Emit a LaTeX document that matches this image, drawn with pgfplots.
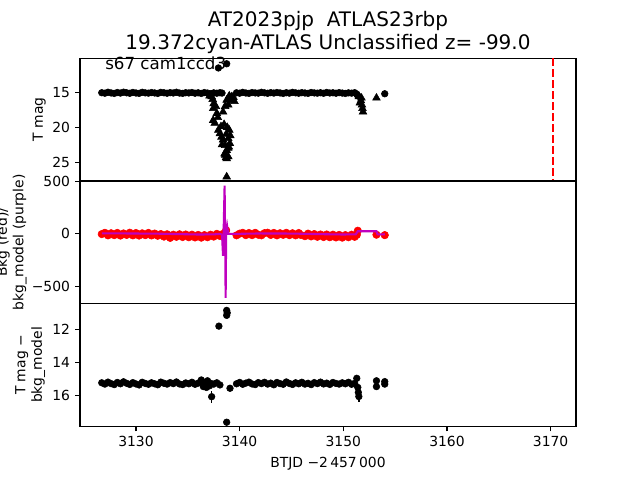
\documentclass[border=0pt]{standalone}
\usepackage{pgfplots}
\pgfplotsset{compat=1.18}
\usepackage{fontspec}
\setmainfont{DejaVu Sans}
\definecolor{mplpurple}{rgb}{0.75,0,0.75}
\definecolor{mplred}{rgb}{1,0,0}
\tikzset{ylab/.style={anchor=east, inner sep=0pt, font=\fontsize{10}{12}\selectfont, xshift=-7pt}}
\begin{document}
\begin{tikzpicture}
\useasboundingbox (0,0) rectangle (460.8pt,345.6pt);
\pgfplotsset{
  panel/.style={
    scale only axis, width=357.12pt, height=88.4pt,
    xmin=3124.6, xmax=3172.45, anchor=south west,
    axis line style={line width=0.8pt},
    tick align=outside, tick pos=left,
    major tick length=3.5pt,
    every tick/.style={black, line width=0.8pt},
    ticklabel style={font=\fontsize{10}{12}\selectfont},
    clip mode=individual,
  },
  dots/.style={only marks, mark=*, mark size=2.4pt, black},
}
% ---------------- top panel -----------------
\begin{axis}[panel, at={(57.6pt,215.3pt)}, y dir=reverse, ymin=10.1, ymax=27.7,
  ytick={15,20,25}, yticklabels={,,}, xtick=\empty]
\addplot[dots] coordinates {
(3126.7,15.05)(3127.0,15.12)(3127.3,14.98)(3127.6,15.08)(3127.9,15.15)(3128.2,15.02)(3128.5,15.10)(3128.8,14.97)(3129.1,15.06)(3129.4,15.13)
(3129.7,15.01)(3130.0,15.09)(3130.3,15.14)(3130.6,14.99)(3130.9,15.07)(3131.2,15.11)(3131.5,15.03)(3131.8,15.08)(3132.1,15.15)(3132.4,15.00)
(3132.7,15.06)(3133.0,15.12)(3133.3,15.04)(3133.6,15.09)(3133.9,14.98)(3134.2,15.10)(3134.5,15.14)(3134.8,15.05)(3135.1,15.08)(3135.4,15.02)
(3135.7,15.12)(3136.0,15.06)(3136.3,15.15)(3136.6,15.03)(3136.9,15.10)(3137.2,15.18)(3137.5,15.07)(3137.8,15.12)(3138.1,15.05)(3138.3,15.10)
(3139.7,15.06)(3140.0,15.12)(3140.3,15.00)(3140.6,15.09)(3140.9,15.14)(3141.2,15.03)(3141.5,15.08)(3141.8,15.11)(3142.1,14.99)(3142.4,15.07)
(3142.7,15.13)(3143.0,15.04)(3143.3,15.10)(3143.6,15.02)(3143.9,15.08)(3144.2,15.15)(3144.5,15.05)(3144.8,15.11)(3145.1,15.00)(3145.4,15.07)
(3145.7,15.12)(3146.0,15.04)(3146.3,15.09)(3146.6,15.14)(3146.9,15.02)(3147.2,15.08)(3147.5,15.11)(3147.8,15.05)(3148.1,15.13)(3148.4,15.01)
(3148.7,15.09)(3149.0,15.06)(3149.3,15.12)(3149.6,15.04)(3149.9,15.10)(3150.2,15.15)(3150.5,15.07)(3150.8,15.11)(3151.1,15.05)(3151.3,15.25)
(3151.4,15.5)(3154.0,15.2)(3137.95,11.5)(3138.75,10.9)
};
\addplot[only marks, mark=triangle*, mark size=3.2pt, black] coordinates {
(3137.5,16.6)(3137.45,17.3)(3137.8,18.0)(3137.45,19.0)(3137.6,19.4)(3137.95,20.4)(3138.1,20.9)(3138.25,21.4)(3138.4,21.8)(3138.6,22.6)
(3138.75,23.3)(3138.6,24.0)(3138.7,24.3)(3138.9,21.6)(3139.05,22.3)(3138.4,17.8)(3138.6,17.0)(3138.75,16.1)(3139.0,15.5)(3139.2,16.1)
(3139.25,15.6)(3138.75,27.1)(3137.3,15.6)(3137.4,16.0)(3138.8,20.0)(3138.9,23.0)(3138.7,21.0)(3138.75,24.5)
(3138.3,22.5)(3138.95,22.8)(3139.1,21.2)(3138.5,19.6)(3138.2,19.9)(3139.0,20.4)(3138.55,23.8)(3138.9,24.2)
(3139.4,15.7)(3139.5,16.3)(3138.9,16.8)(3137.1,15.5)(3137.7,17.0)(3137.9,18.6)
(3151.5,15.6)(3151.7,16.2)(3151.8,16.8)(3151.85,17.3)(3151.9,17.8)(3151.6,16.5)(3151.75,15.8)(3153.2,15.8)
};
\addplot[mplred, line width=1.5pt, dash pattern=on 5.5pt off 2.4pt] coordinates {(3170.2,10.1)(3170.2,27.7)};
\node[ylab] at (axis cs:3124.6,15) {15};
\node[ylab] at (axis cs:3124.6,20) {20};
\node[ylab] at (axis cs:3124.6,25) {25};
\end{axis}
% ---------------- middle panel -----------------
\begin{axis}[panel, at={(57.6pt,126.9pt)}, ymin=-667, ymax=505,
  ytick={-500,0,500}, yticklabels={,,}, xtick=\empty]
\addplot[only marks, mark=*, mark size=2.7pt, mplred] coordinates {
(3126.7,-2)(3127.0,10)(3127.3,-14)(3127.6,6)(3127.9,-12)(3128.2,9)(3128.5,-16)(3128.8,4)(3129.1,-10)(3129.4,11)
(3129.7,-14)(3130.0,8)(3130.3,-16)(3130.6,5)(3130.9,-12)(3131.2,9)(3131.5,-15)(3131.8,3)(3132.1,-18)(3132.4,-2)
(3132.7,-26)(3133.0,-4)(3133.3,-38)(3133.6,-8)(3133.9,-28)(3134.2,-4)(3134.5,-30)(3134.8,-6)(3135.1,-32)(3135.4,-8)
(3135.7,-34)(3136.0,-10)(3136.3,-36)(3136.6,-12)(3136.9,-32)(3137.2,-8)(3137.5,-26)(3137.8,0)(3138.1,-20)(3138.3,-4)
(3138.7,35)
(3139.7,-14)(3140.0,2)(3140.3,10)(3140.6,-12)(3140.9,8)(3141.2,-12)(3141.5,10)(3141.8,-8)(3142.1,-14)(3142.4,7)
(3142.7,11)(3143.0,-10)(3143.3,9)(3143.6,-14)(3143.9,6)(3144.2,-9)(3144.5,10)(3144.8,-12)(3145.1,6)(3145.4,-14)
(3145.7,8)(3145.9,-10)(3146.3,-22)(3146.6,2)(3146.9,-24)(3147.2,-2)(3147.5,-28)(3147.8,-6)(3148.1,-30)(3148.4,-6)
(3148.7,-32)(3149.0,-8)(3149.3,-34)(3149.6,-10)(3149.9,-36)(3150.2,-12)(3150.5,-32)(3150.8,-8)(3151.1,-28)(3151.3,-10)
(3151.4,30)(3153.2,-8)(3154.0,-12)
};
\addplot[mplpurple, line width=1.5pt] coordinates {
(3126.7,5)(3129,4)(3132,2)(3134,-2)(3136,-6)(3137.5,-5)(3138.1,0)(3138.3,-8)(3138.4,-210)(3138.45,-5)
(3138.55,460)(3138.6,0)(3138.65,-610)(3138.7,-5)(3138.8,70)(3138.9,0)(3139.7,0)(3142,4)(3145,3)(3148,-3)
(3150,-6)(3151.2,-4)(3151.4,25)(3153.2,25)(3153.3,-5)(3154.0,-5)
};
\node[ylab] at (axis cs:3124.6,500) {500};
\node[ylab] at (axis cs:3124.6,0) {0};
\node[ylab] at (axis cs:3124.6,-500) {−500};
\end{axis}
% ---------------- bottom panel -----------------
\begin{axis}[panel, at={(57.6pt,38.5pt)}, y dir=reverse, ymin=10.45, ymax=17.86,
  ytick={12,14,16}, yticklabels={,,},
  xtick={3130,3140,3150,3160,3170}, xticklabels={3130,3140,3150,3160,3170}]
\addplot[dots] coordinates {
(3126.7,15.22)(3127.0,15.30)(3127.3,15.18)(3127.6,15.27)(3127.9,15.33)(3128.2,15.20)(3128.5,15.28)(3128.8,15.16)(3129.1,15.25)(3129.4,15.32)
(3129.7,15.21)(3130.0,15.29)(3130.3,15.35)(3130.6,15.19)(3130.9,15.26)(3131.2,15.31)(3131.5,15.22)(3131.8,15.28)(3132.1,15.34)(3132.4,15.18)
(3132.7,15.25)(3133.0,15.30)(3133.3,15.21)(3133.6,15.27)(3133.9,15.17)(3134.2,15.29)(3134.5,15.33)(3134.8,15.23)(3135.1,15.28)(3135.4,15.19)
(3135.7,15.31)(3136.0,15.24)(3136.3,15.05)(3136.5,15.45)(3136.6,15.22)(3136.8,15.50)(3136.9,15.10)(3137.1,15.40)(3137.2,15.25)(3137.5,15.30)
(3137.8,15.22)(3138.1,15.35)
(3139.7,15.28)(3140.0,15.20)(3140.3,15.31)(3140.6,15.24)(3140.9,15.18)(3141.2,15.29)(3141.5,15.33)(3141.8,15.21)(3142.1,15.27)(3142.4,15.19)
(3142.7,15.30)(3143.0,15.24)(3143.3,15.34)(3143.6,15.20)(3143.9,15.27)(3144.2,15.31)(3144.5,15.17)(3144.8,15.26)(3145.1,15.32)(3145.4,15.22)
(3145.7,15.28)(3146.0,15.19)(3146.3,15.30)(3146.6,15.25)(3146.9,15.33)(3147.2,15.21)(3147.5,15.27)(3147.8,15.18)(3148.1,15.29)(3148.4,15.24)
(3148.7,15.32)(3149.0,15.20)(3149.3,15.26)(3149.6,15.30)(3149.9,15.22)(3150.2,15.28)(3150.5,15.19)(3150.8,15.31)(3151.1,15.25)(3151.3,14.95)
(3151.4,15.5)(3151.45,15.8)
(3138.75,10.85)(3138.8,11.0)(3138.75,11.15)(3138.0,11.8)(3139.07,15.55)(3138.75,17.6)
(3153.2,15.1)(3153.2,15.45)(3154.0,15.15)(3154.0,15.3)
};
\addplot[dots, error bars/.cd, y dir=both, y explicit, error mark=none,
  error bar style={line width=1.2pt, black}] coordinates {
(3137.3,16.06) +- (0,0.35)
(3151.5,16.05) +- (0,0.30)
};
\node[ylab] at (axis cs:3124.6,12) {12};
\node[ylab] at (axis cs:3124.6,14) {14};
\node[ylab] at (axis cs:3124.6,16) {16};
\end{axis}
% ---------------- texts -----------------
\node[anchor=base, font=\fontsize{14.4}{17}\selectfont] at (236.16pt,326.2pt) {AT2023pjp\ \ ATLAS23rbp};
\node[anchor=base, font=\fontsize{14.4}{17}\selectfont] at (236.16pt,310.3pt) {19.372cyan-ATLAS Unclassified z= -99.0};
\node[anchor=base west, font=\fontsize{12}{14}\selectfont, inner sep=0pt] at (75.6pt,295.7pt) {s67 cam1ccd3};
\node[anchor=base, font=\fontsize{10}{12}\selectfont, inner sep=0pt] at (236.16pt,8.8pt) {BTJD −2\,457\,000};
\node[rotate=90, anchor=base, font=\fontsize{10}{12}\selectfont, inner sep=0pt] at (30.8pt,259.7pt) {T mag};
\node[rotate=90, anchor=base, font=\fontsize{10}{12}\selectfont, inner sep=0pt] at (4.9pt,171.2pt) {Bkg (red)/};
\node[rotate=90, anchor=base, font=\fontsize{10}{12}\selectfont, inner sep=0pt] at (16.9pt,171.2pt) {bkg\_model (purple)};
\node[rotate=90, anchor=base, font=\fontsize{10}{12}\selectfont, inner sep=0pt] at (18.2pt,82.8pt) {T mag −};
\node[rotate=90, anchor=base, font=\fontsize{10}{12}\selectfont, inner sep=0pt] at (30.2pt,82.8pt) {bkg\_model};
\end{tikzpicture}
\end{document}
